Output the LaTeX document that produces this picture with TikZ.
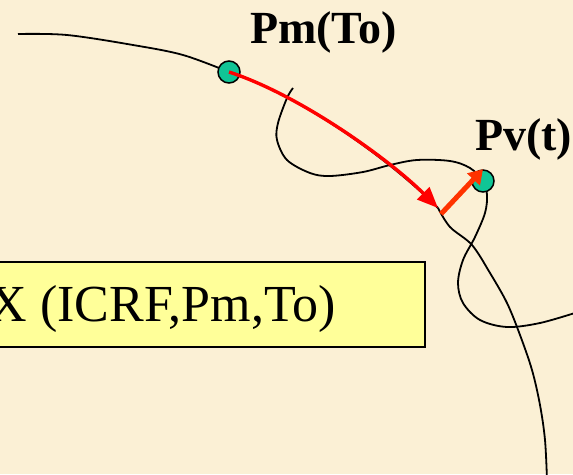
\documentclass[tikz,border=0pt]{standalone}
\usepackage{fontspec}
\setmainfont{Liberation Serif}
\usetikzlibrary{arrows.meta, positioning}
\definecolor{parchment}{HTML}{FBF0D5}
\definecolor{dotgreen}{HTML}{10C596}
\definecolor{boxyellow}{HTML}{FFFF99}
\definecolor{arrred}{HTML}{FF0000}
\definecolor{arrorange}{HTML}{FF3300}

\begin{document}
\begin{tikzpicture}[
    x=1pt, y=-1pt,
    orbit/.style={line width=1.8pt, black},
    dot/.style={circle, draw=black, line width=1.5pt, fill=dotgreen,
                minimum size=22pt, inner sep=0pt},
    lbl/.style={font=\fontsize{46}{52}\selectfont\bfseries, inner sep=0pt},
    boxtxt/.style={font=\fontsize{52}{58}\selectfont, inner sep=0pt},
    framebox/.style={rectangle, draw=black, line width=1.6pt, fill=boxyellow,
                     inner sep=0pt},
    drift/.style={-{Triangle[length=21pt, width=17pt]}, line width=3.4pt, arrred},
    offset/.style={-{Triangle[length=14pt, width=17pt]}, line width=5pt, arrorange}
]
\useasboundingbox (0,0) rectangle (573,474);
\clip (0,0) rectangle (573,474);
\fill[parchment] (0,0) rectangle (573,474);

% Points
\coordinate (pmc) at (229,72);
\coordinate (pvc) at (483,181);
\coordinate (foot) at (438,208);
\coordinate (base) at (441,214);

% Box
\node[framebox, anchor=north east, minimum width=480pt, minimum height=85pt]
    (box) at (426,261) {};
\node[boxtxt, anchor=base east] (boxtext) at (336,321) {X (ICRF,Pm,To)};

% Curves
\draw[orbit] plot[smooth, tension=0.55] coordinates {
    (18,34) (67,35) (133,45) (183,55) (pmc)};
\draw[orbit] (pmc) .. controls (300,95) and (390,160) .. (foot);
\draw[orbit] plot[smooth, tension=0.55] coordinates {
    (foot) (450,227) (472,245) (490,273) (507,303) (520,335) (532,370)
    (540,405) (545,440) (547,480)};
\draw[orbit] plot[smooth, tension=0.55] coordinates {
    (293,88) (287,98) (278,123) (277,140) (287,160) (310,173) (330,176)
    (363,172) (390,165) (417,160) (450,161) (470,168) (pvc)
    (487,195) (485,213) (475,237) (463,260) (458,283) (463,303) (480,320)
    (507,327) (540,323) (578,312)};

% Nodes
\node[dot] (pm) at (pmc) {};
\node[dot] (pv) at (pvc) {};
\node[lbl, anchor=base west] (pmlabel) at (250,43) {Pm(To)};
\node[lbl, anchor=base west] (pvlabel) at (475,150) {Pv(t)};

% Arrows
\draw[drift] (pm.center) .. controls (300,95) and (390,160) .. (foot);
\draw[offset] (base) -- (pv.north);

\end{tikzpicture}
\end{document}
